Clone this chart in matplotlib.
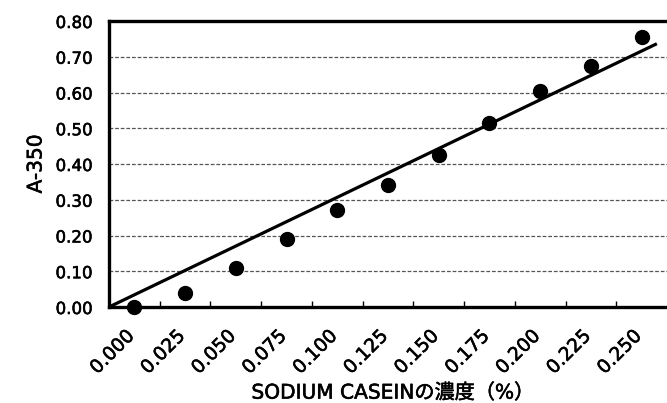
import numpy as np
import matplotlib
matplotlib.use("Agg")
import matplotlib.pyplot as plt
import matplotlib.patheffects as pe
import matplotlib.transforms as mtransforms
from matplotlib.ticker import FixedLocator, FormatStrFormatter

plt.rcParams['font.family'] = ['DejaVu Sans', 'Noto Sans CJK JP']

categories = ["0.000", "0.025", "0.050", "0.075", "0.100", "0.125",
              "0.150", "0.175", "0.200", "0.225", "0.250"]
absorbance = [0.00, 0.04, 0.11, 0.19, 0.27, 0.34, 0.425, 0.515, 0.605, 0.675, 0.755]
y_ticks = [0.0, 0.1, 0.2, 0.3, 0.4, 0.5, 0.6, 0.7, 0.8]
x_label = "SODIUM CASEINの濃度（%）"
y_label = "A-350"

bold = [pe.withStroke(linewidth=0.4, foreground='black')]

fig = plt.figure(figsize=(6.67, 4.03), dpi=100)
ax = fig.add_axes([109/667, 96/403, 558/667, 286/403])

pos = np.arange(len(categories)) + 0.5
y = np.array(absorbance)

# linear trend line forced through the origin
slope = np.sum(pos * y) / np.sum(pos * pos)
xt = np.array([0.0, 10.8])
ax.plot(xt, slope * xt, color='black', lw=2.3, solid_capstyle='butt', zorder=3)

ax.plot(pos, y, 'o', color='black', markersize=10, zorder=4, clip_on=False)

ax.set_xlim(0, len(categories))
ax.set_ylim(0, 0.8)

ax.set_yticks(y_ticks)
ax.yaxis.set_major_formatter(FormatStrFormatter('%.2f'))
ax.tick_params(axis='y', length=0, pad=12, labelsize=12)

ax.set_xticks(pos)
ax.set_xticklabels(categories, rotation=45, ha='right', va='top',
                   rotation_mode='anchor', fontsize=13.5)
ax.xaxis.set_minor_locator(FixedLocator(np.arange(1, len(categories))))
ax.tick_params(axis='x', which='major', length=0, pad=14)
ax.tick_params(axis='x', which='minor', length=4, width=1, direction='in')

offset = mtransforms.ScaledTranslation(-10/100, 0, fig.dpi_scale_trans)
for lab in ax.get_xticklabels():
    lab.set_transform(lab.get_transform() + offset)
    lab.set_path_effects(bold)
for lab in ax.get_yticklabels():
    lab.set_path_effects(bold)

for yy in y_ticks[1:-1]:
    ax.axhline(yy, color='#555555', lw=0.9, ls=(0, (3, 1.5)), zorder=1)

for s in ['left', 'top', 'bottom']:
    ax.spines[s].set_linewidth(2.4)
    ax.spines[s].set_color('black')
ax.spines['right'].set_visible(False)

fig.text(393/667, 1 - 393/403, x_label, ha='center', va='center', fontsize=14.5,
         path_effects=bold)
fig.text(36/667, 1 - 164/403, y_label, ha='center', va='center',
         rotation=90, fontsize=14.5, path_effects=bold)

fig.savefig("out.png", dpi=100)
